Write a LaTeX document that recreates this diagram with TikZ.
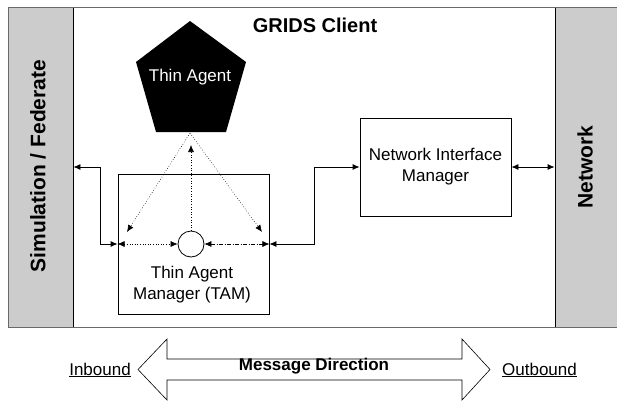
\documentclass[tikz,border=0pt]{standalone}
\usepackage{fontspec}
\setmainfont{Liberation Sans}
\usetikzlibrary{arrows.meta,calc}
\definecolor{stripgray}{RGB}{204,204,204}
\definecolor{framegray}{RGB}{105,105,105}
\begin{document}
\begin{tikzpicture}[x=1pt,y=-1pt,
  stripbox/.style={rectangle, fill=stripgray, draw=black, line width=0.8pt, inner sep=0pt},
  box/.style={rectangle, draw=black, line width=0.8pt, inner sep=0pt},
  lbl/.style={font=\fontsize{17}{21}\selectfont, align=center, inner sep=0pt},
  striplbl/.style={font=\fontsize{21}{24}\selectfont\bfseries, rotate=90, inner sep=0pt},
  tip/.style={Latex[length=7pt,width=6pt]},
  conn/.style={line width=0.8pt, {Latex[length=7pt,width=6pt]}-{Latex[length=7pt,width=6pt]}},
  dotconn/.style={line width=0.6pt, dotted},
  dashdotconn/.style={line width=0.6pt, dash pattern=on 4pt off 1.5pt on 1pt off 1.5pt}
]
\useasboundingbox (0,0) rectangle (617,400);

% strips and frame
\node[stripbox, minimum width=65pt, minimum height=320pt] (sim) at (40.5,167) {};
\node[stripbox, minimum width=65pt, minimum height=320pt] (net) at (587.5,167) {};
\draw[framegray, line width=1pt] (8,7) rectangle (621,327);
\node[striplbl] (simlbl) at (38,166) {Simulation / Federate};
\node[striplbl] (netlbl) at (585,167) {Network};

% title
\node[font=\fontsize{20}{24}\selectfont\bfseries, inner sep=0pt] (title) at (315,25) {GRIDS Client};

% thin agent pentagon
\fill[black] (190,21) -- (246,62) -- (226,132) -- (156,132) -- (136,62) -- cycle;
\node[lbl, text=white] (agent) at (190,77) {Thin Agent};
\coordinate (agentbase) at (190,133);

% TAM
\node[box, minimum width=151pt, minimum height=140pt] (tam) at (193.5,244) {};
\node[lbl] (tamlbl) at (192,285) {Thin Agent\\Manager (TAM)};
\node[circle, draw=black, line width=0.8pt, minimum size=26pt, inner sep=0pt] (hub) at (191,244) {};

% NIM
\node[box, lbl, minimum width=151pt, minimum height=98pt] (nim) at (435.5,167) {Network Interface\\Manager};

% connectors
\coordinate (lbend) at (100,244);
\coordinate (rbend) at (314,244);
\draw[conn] (sim.east |- nim.west) -| (lbend) -- (tam.west);
\draw[conn] (tam.east) -- (rbend) |- (nim.west);
\draw[conn] (nim.east) -- (net.west |- nim.east);

\draw[dotconn, {Latex[length=7pt,width=6pt]}-{Latex[length=7pt,width=6pt]}] (tam.west) -- (hub.west);
\draw[dashdotconn, {Latex[length=7pt,width=6pt]}-{Latex[length=7pt,width=6pt]}] (hub.east) -- (tam.east);

\coordinate (uptip) at (191,145);
\coordinate (lefttip) at (127,232);
\coordinate (righttip) at (262,232);
\draw[dotconn, -{Latex[length=7pt,width=6pt]}] (hub.north) -- (uptip);
\draw[dotconn, -{Latex[length=7pt,width=6pt]}] (agentbase) -- (lefttip);
\draw[dotconn, -{Latex[length=7pt,width=6pt]}] (agentbase) -- (righttip);

% message direction arrow
\draw[line width=0.6pt, fill=white] (138,369.5) -- (167,339) -- (167,359) -- (462,359) -- (462,339)
  -- (490,369.5) -- (462,400) -- (462,380) -- (167,380) -- (167,400) -- cycle;
\node[font=\fontsize{17}{21}\selectfont\bfseries, inner sep=0pt] (msg) at (314,366) {Message Direction};
\node[lbl] (inb) at (100,370) {\underline{Inbound}};
\node[lbl] (outb) at (539.5,370) {\underline{Outbound}};
\end{tikzpicture}
\end{document}
